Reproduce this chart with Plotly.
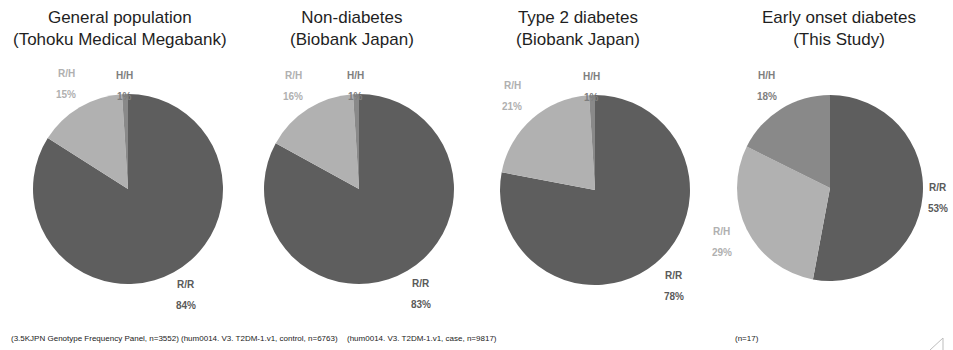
import math
import plotly.graph_objects as go

W, H = 953, 350

# Genotype categories and their colours
genotypes = ["R/R", "R/H", "H/H"]
slice_colors = ["#5e5e5e", "#b1b1b1", "#898989"]
label_colors = ["#5a5a5a", "#b0b0b0", "#7e7e7e"]

# Genotype frequencies per cohort (percent, or counts for this study)
general_population = [84, 15, 1]
non_diabetes = [83, 16, 1]
type2_diabetes = [78, 21, 1]
early_onset = [9, 5, 3]  # n=17

titles = [
    "General population<br>(Tohoku Medical Megabank)",
    "Non-diabetes<br>(Biobank Japan)",
    "Type 2 diabetes<br>(Biobank Japan)",
    "Early onset diabetes<br>(This Study)",
]
sources = [
    "(3.5KJPN Genotype Frequency Panel, n=3552)",
    "(hum0014. V3. T2DM-1.v1, control, n=6763)",
    "(hum0014. V3. T2DM-1.v1, case, n=9817)",
    "(n=17)",
]

cohorts = [general_population, non_diabetes, type2_diabetes, early_onset]

# pie placement in pixels: (center x, center y from top, radius)
pie_geom = [(128, 189, 95), (359, 189, 95), (595, 190, 95), (830, 188, 93)]
title_x = [120, 352, 578, 839]
source_x = [9, 179, 345, 733]

FONT = "Liberation Sans, Arial, sans-serif"

fig = go.Figure()
annotations = []

for vals, (cx, cy, r) in zip(cohorts, pie_geom):
    fig.add_trace(go.Pie(
        labels=genotypes,
        values=vals,
        sort=False,
        direction="clockwise",
        rotation=0,
        marker=dict(colors=slice_colors, line=dict(width=0)),
        textinfo="none",
        showlegend=False,
        hoverinfo="label+percent",
        domain=dict(
            x=[(cx - r) / W, (cx + r) / W],
            y=[(H - cy - r) / H, (H - cy + r) / H],
        ),
    ))

    # outside data labels: placed along each slice's mid-angle, pushed a bit
    # further out on the diagonals and sides so the two-line block clears the rim
    total = sum(vals)
    start = 0.0
    for name, v, col in zip(genotypes, vals, label_colors):
        frac = v / total
        mid = 2 * math.pi * (start + frac / 2)  # clockwise from 12 o'clock
        start += frac
        dist = r + 7 + 21 * abs(math.sin(2 * mid)) + 5 * math.sin(mid) ** 2
        lx = cx + dist * math.sin(mid)
        ly = cy - dist * math.cos(mid)
        pct = f"{round(100 * frac)}%"
        for txt, dy in ((name, -10.5), (pct, 10.5)):
            annotations.append(dict(
                text=f"<b>{txt}</b>", x=lx / W, y=1 - (ly + dy) / H,
                xref="paper", yref="paper", xanchor="center", yanchor="middle",
                showarrow=False, font=dict(family=FONT, size=10, color=col),
            ))

for t, x in zip(titles, title_x):
    annotations.append(dict(
        text=t, x=x / W, y=1 - 6 / H, xref="paper", yref="paper",
        xanchor="center", yanchor="top", showarrow=False, align="center",
        font=dict(family=FONT, size=17, color="#1f1f1f"),
    ))
for s, x in zip(sources, source_x):
    annotations.append(dict(
        text=s, x=x / W, y=1 - 338 / H, xref="paper", yref="paper",
        xanchor="left", yanchor="middle", showarrow=False,
        font=dict(family=FONT, size=8, color="#222222"),
    ))

fig.update_layout(
    width=W, height=H,
    margin=dict(l=0, r=0, t=0, b=0),
    paper_bgcolor="white", plot_bgcolor="white",
    annotations=annotations,
    shapes=[dict(
        type="path", xref="paper", yref="paper",
        path=f"M {930 / W} {0} L {943 / W} {12 / H} L {943 / W} {0}",
        line=dict(color="#bdbdbd", width=1),
    )],
)

fig.write_html("out.html")
